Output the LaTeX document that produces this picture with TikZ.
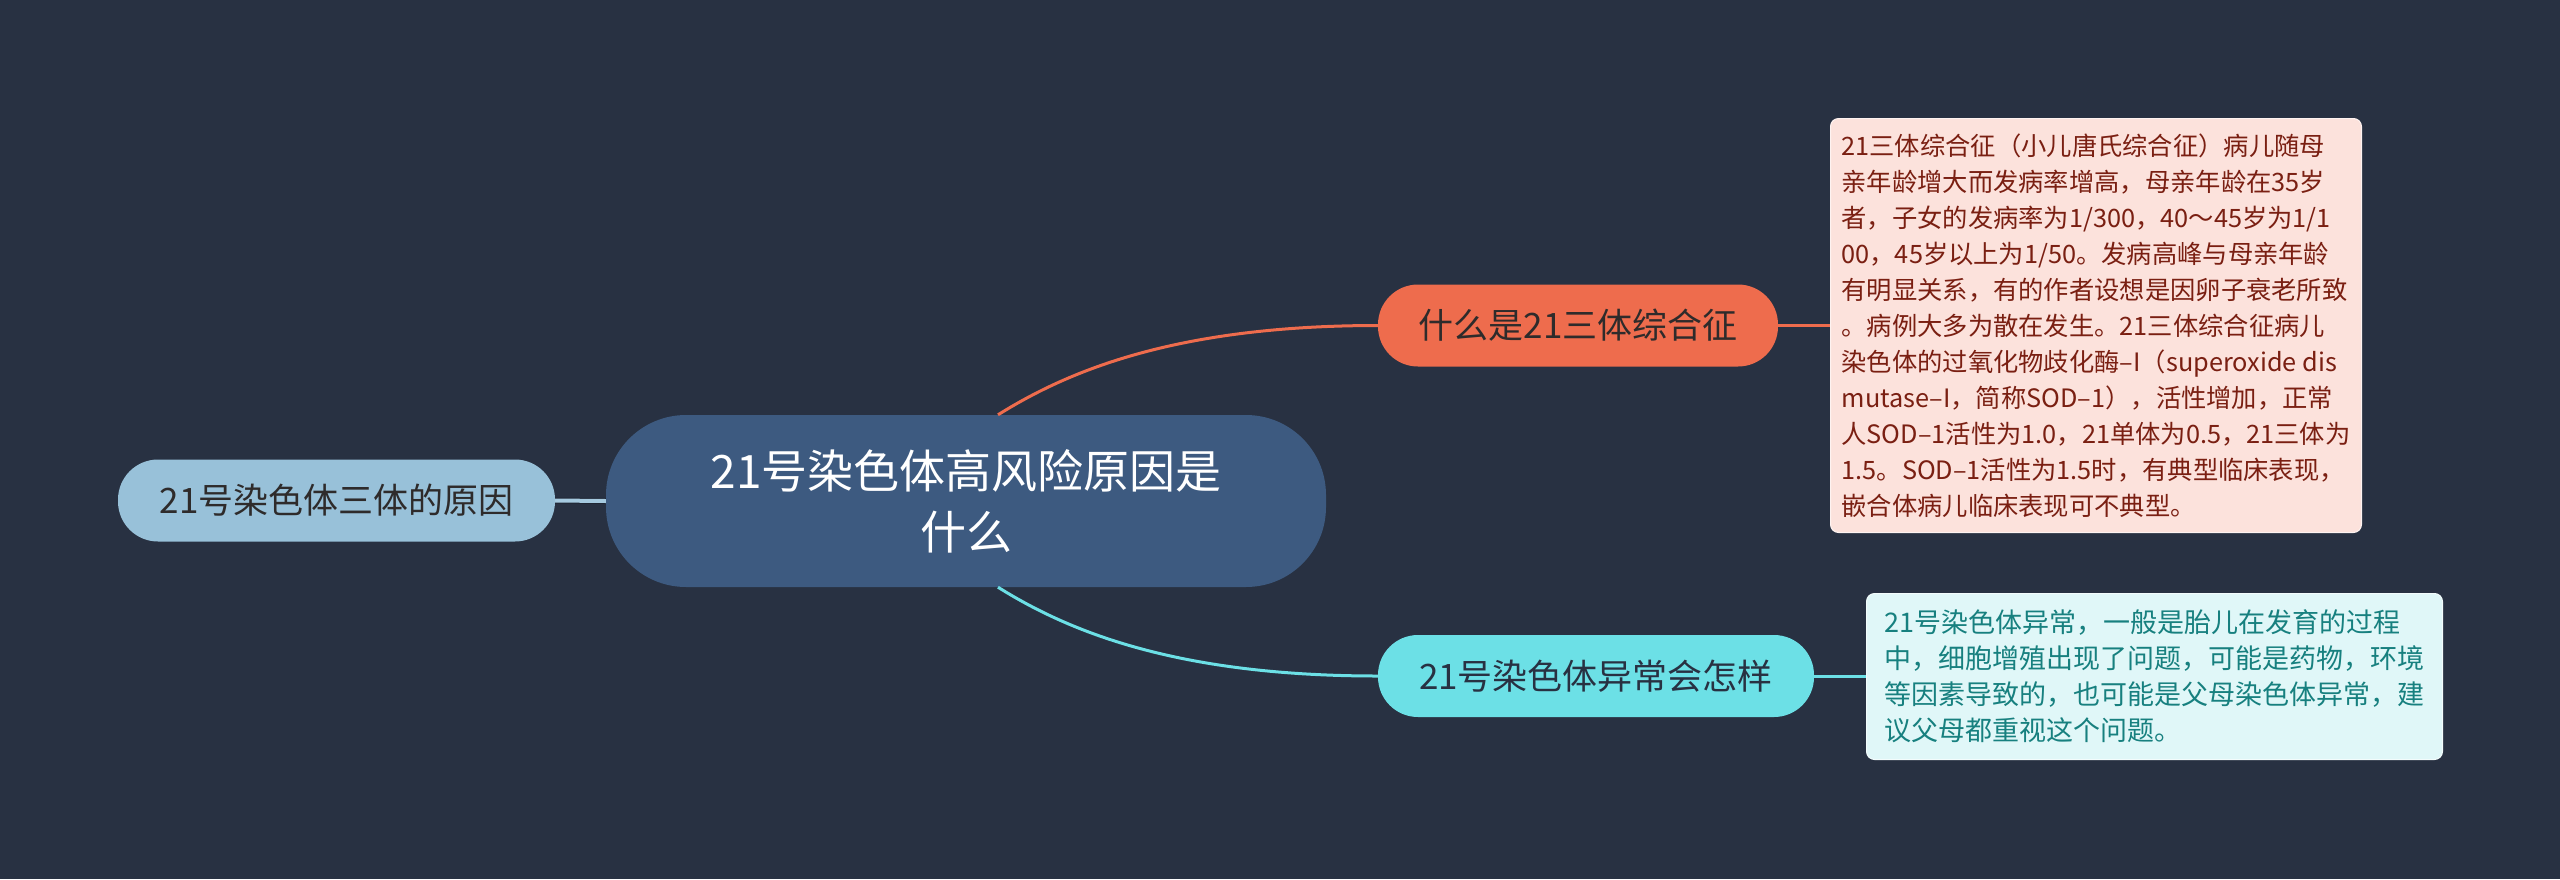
\documentclass[tikz,border=0pt]{standalone}
\usepackage{fontspec}
\setmainfont{Noto Sans CJK SC}
\usetikzlibrary{calc}
\definecolor{bg}{HTML}{283142}
\definecolor{cfill}{HTML}{3D5A80}
\definecolor{lfill}{HTML}{98C1D9}
\definecolor{lline}{HTML}{A6CAE0}
\definecolor{ofill}{HTML}{EE6C4D}
\definecolor{cyfill}{HTML}{6CE0E6}
\definecolor{obfill}{HTML}{FCE2DC}
\definecolor{obtext}{HTML}{7A1F12}
\definecolor{cbfill}{HTML}{E0F7F8}
\definecolor{cbtext}{HTML}{17807F}
\definecolor{darktext}{HTML}{2E2B2B}
\begin{document}
\begin{tikzpicture}[x=1pt,y=-1pt,
  centralnode/.style={fill=cfill, text=white, rounded corners=80pt, minimum width=720pt, minimum height=172pt, align=center, inner sep=0pt, font=\fontsize{46}{61}\selectfont},
  topicnode/.style={rounded corners=40pt, minimum height=82pt, inner sep=0pt, text=darktext, font=\fontsize{35}{40}\selectfont},
  notebox/.style={anchor=north west, rounded corners=8pt, align=left, inner xsep=0pt, inner ysep=0pt},
  branch/.style={line width=3pt}
]
\fill[bg] (0,0) rectangle (2560,879);
\useasboundingbox (0,0) rectangle (2560,879);

\node[centralnode] (c) at (966,501) {21号染色体高风险原因是\\什么};
\node[topicnode, fill=lfill, minimum width=437pt] (l) at (336.5,500.5) {21号染色体三体的原因};
\node[topicnode, fill=ofill, minimum width=400pt] (o) at (1578,325.5) {什么是21三体综合征};
\node[topicnode, fill=cyfill, minimum width=436pt, text=bg] (cy) at (1596,676) {21号染色体异常会怎样};

\node[notebox, fill=obfill, text=obtext, draw=white!60!obfill, line width=1pt, minimum width=531pt, minimum height=414pt, font=\fontsize{25.3}{36}\selectfont] (ob) at (1830,118) {21三体综合征（小儿唐氏综合征）病儿随母\\亲年龄增大而发病率增高，母亲年龄在35岁\\者，子女的发病率为1/300，40～45岁为1/1\\00，45岁以上为1/50。发病高峰与母亲年龄\\有明显关系，有的作者设想是因卵子衰老所致\\。病例大多为散在发生。21三体综合征病儿\\染色体的过氧化物歧化酶–I（superoxide dis\\mutase–I，简称SOD–1），活性增加，正常\\人SOD–1活性为1.0，21单体为0.5，21三体为\\1.5。SOD–1活性为1.5时，有典型临床表现，\\嵌合体病儿临床表现可不典型。};

\node[notebox, fill=cbfill, text=cbtext, draw=white!60!cbfill, line width=1pt, minimum width=576pt, minimum height=166pt, font=\fontsize{27}{36}\selectfont] (cb) at (1866,593) {21号染色体异常，一般是胎儿在发育的过程\\中，细胞增殖出现了问题，可能是药物，环境\\等因素导致的，也可能是父母染色体异常，建\\议父母都重视这个问题。};

% connectors
\draw[line width=6pt, draw=bg!80!black] (l.east) -- (c.west);
\draw[line width=4pt, draw=lline] (l.east) -- (c.west);
\draw[branch, draw=ofill] ([xshift=32pt]c.north) .. controls +(72,-45) and +(-200,0) .. (o.west);
\draw[branch, draw=cyfill] ([xshift=32pt]c.south) .. controls +(72,45) and +(-200,0) .. (cy.west);
\draw[branch, draw=ofill] (o.east) -- (o.east -| ob.west);
\draw[branch, draw=cyfill] (cy.east) -- (cy.east -| cb.west);
\end{tikzpicture}
\end{document}
